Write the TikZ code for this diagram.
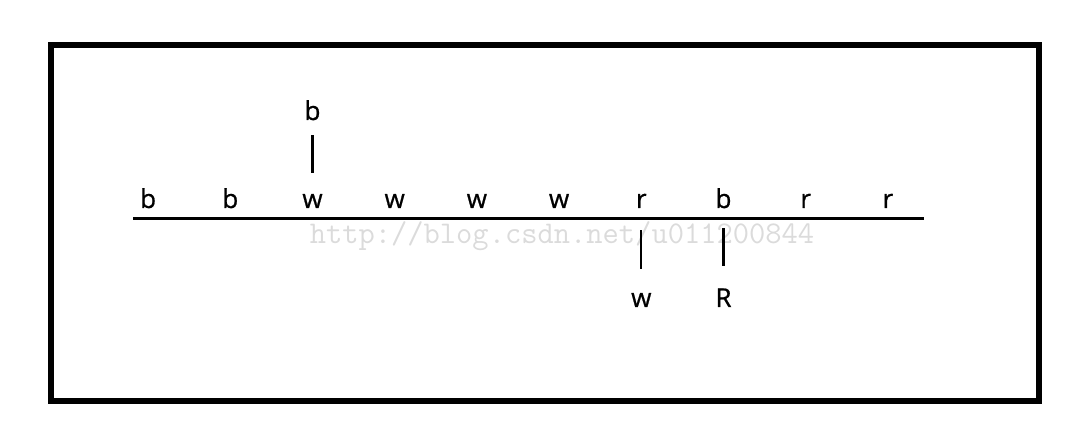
\documentclass[tikz,border=0pt]{standalone}
\usepackage{fontspec}
\setmainfont{Open Sans}
\newfontfamily\letterfont[FakeBold=0.8]{Open Sans}
\usetikzlibrary{matrix}

\begin{document}
\begin{tikzpicture}[x=1pt,y=-1pt, link/.style={draw, line width=2.2pt}]
\useasboundingbox (0,0) rectangle (1092,435);
\draw[line width=6pt] (51,45) rectangle (1039,401);
\node[text=gray!28, font=\ttfamily\fontsize{31.6}{34}\selectfont] (wmark) at (562,236) {http://blog.csdn.net/u011200844};
%\matrix(m)[matrix of nodes, row sep=4em, column sep=4em]
\matrix(m)[matrix of nodes, inner sep=0pt, column sep=42.2pt, row sep=70pt,
  nodes={minimum width=40pt, text height=18pt, text depth=0pt, inner sep=0pt, font=\letterfont\fontsize{26}{30}\selectfont}]
  at (518,204.5)
{
	  &   & b &   &   &   &   &   &   &   \\
	b & b & w & w & w & w & r & b & r & r \\[11pt]
	  &   &   &   &   &   & w & R &   &   \\
};
\coordinate (lineL) at (133,219);
\coordinate (lineR) at (924,219);
\draw[line width=3pt] (lineL) -- (lineR);
\path
(m-1-3) edge[link, shorten <=15pt, shorten >=17pt] (m-2-3)
(m-2-7) edge[link, shorten <=22pt, shorten >=20pt] (m-3-7)
(m-2-8) edge[link, shorten <=20pt, shorten >=23pt] (m-3-8)
;
\end{tikzpicture}
\end{document}
